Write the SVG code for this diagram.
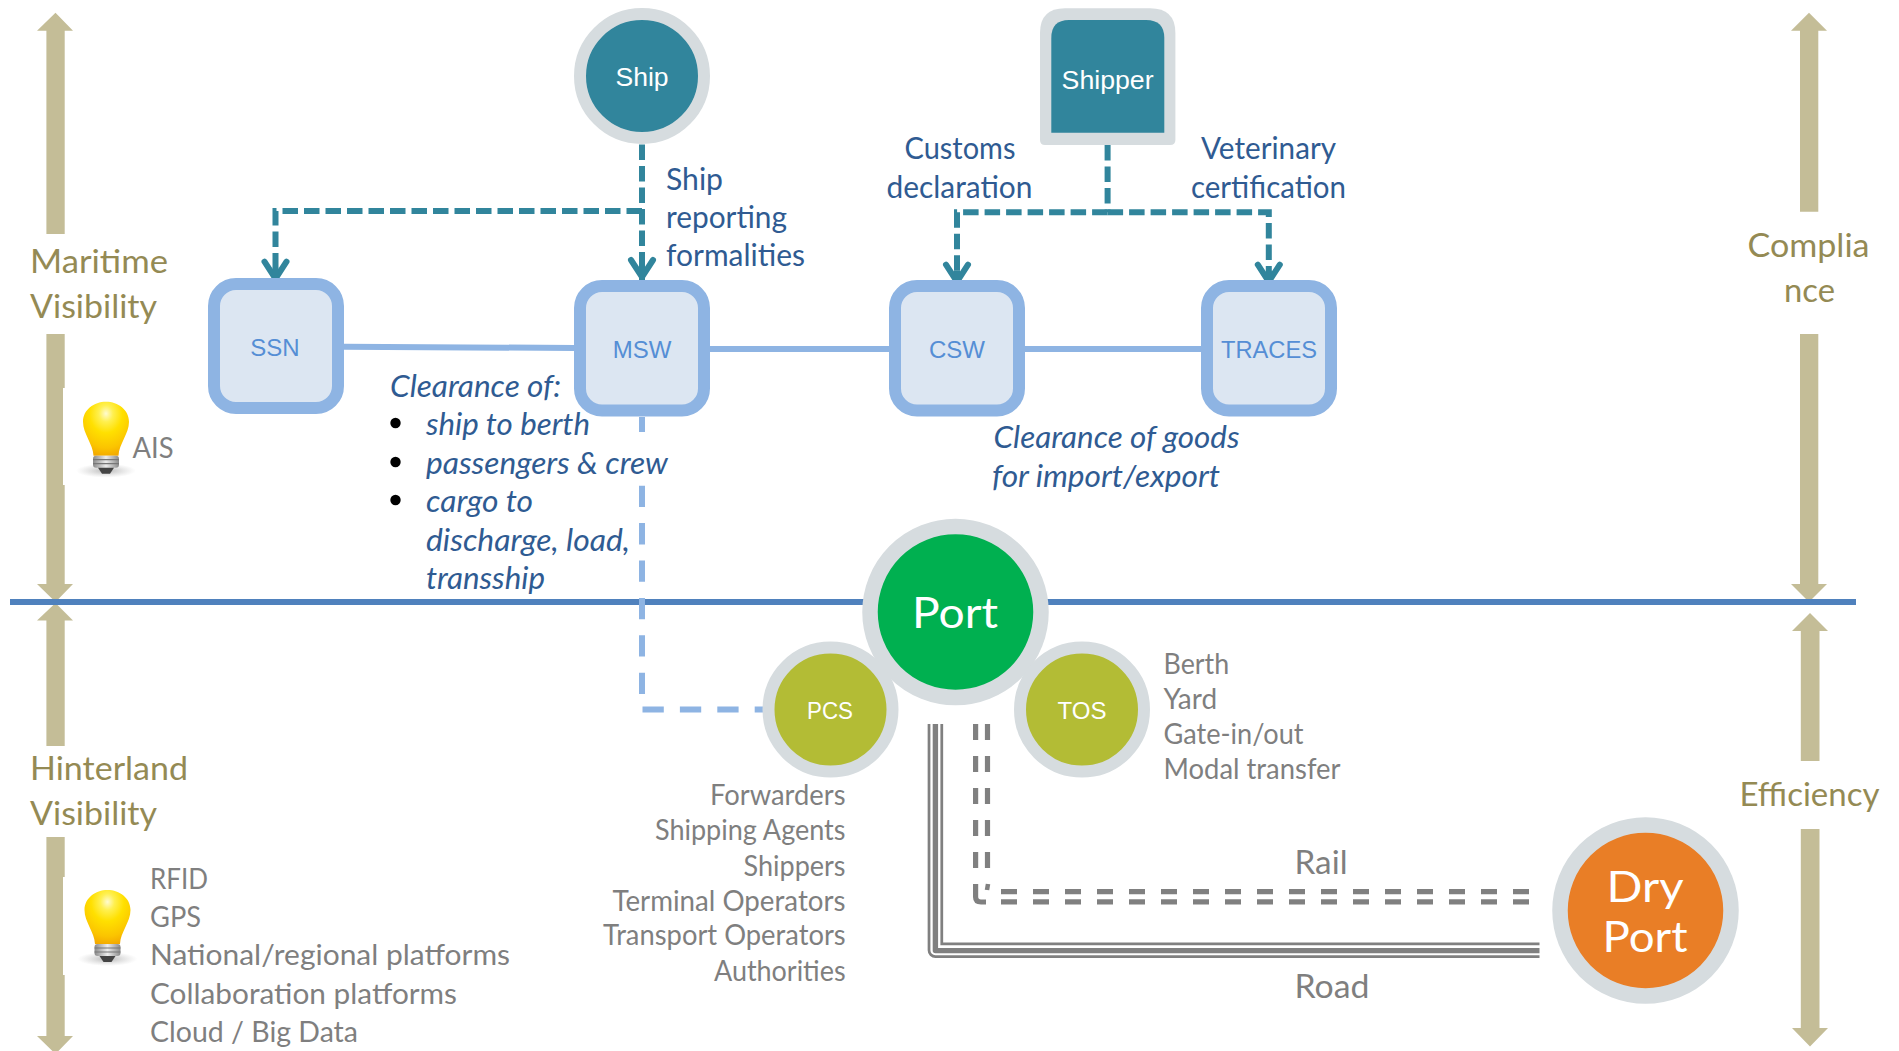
<svg xmlns="http://www.w3.org/2000/svg" width="1899" height="1051" viewBox="0 0 1899 1051">
<style>
text{font-family:"Lato","Carlito","Noto Sans",sans-serif}
.ar{font-family:"Liberation Sans",Arial,sans-serif}
.axis{fill:#C4BD97}
.tag{font-size:32.500px;fill:#948A54}
.blue{font-size:30px;fill:#2F5B92}
.ital{font-size:30px;fill:#2F5B92;font-style:italic}
.grey{font-size:28px;fill:#7F7F7F}
.big{font-size:33px;fill:#7F7F7F}
.ring{stroke:#D6DCDF;stroke-width:12}
.teal{fill:#31859C}
.sw rect{fill:#DCE6F2;stroke:#8EB4E3;stroke-width:12}
.sw text{font-size:24px;fill:#558ED5;text-anchor:middle}
.wt{fill:#fff;text-anchor:middle}
.c-solid{fill:none;stroke:#8EB4E3;stroke-width:6}
.c-teal{fill:none;stroke:#31859C;stroke-width:6;stroke-dasharray:15.5 6}
.c-ltb{fill:none;stroke:#8EB4E3;stroke-width:6;stroke-dasharray:21.3 16.1}
.road{fill:none;stroke-linejoin:round}
.rail{fill:none;stroke:#808080;stroke-width:5.2;stroke-dasharray:16 16}
</style>
<defs>
<marker id="open" markerUnits="userSpaceOnUse" markerWidth="34" markerHeight="34" viewBox="-28 -17 34 34" refX="0" refY="0" orient="auto">
<path d="M-21 -11 L-4 0 L-21 11" fill="none" stroke="#31859C" stroke-width="6" stroke-linecap="round"/>
<path d="M-15 0 H0" stroke="#31859C" stroke-width="6"/>
</marker>
<radialGradient id="glass" cx="0.5" cy="0.22" r="0.85">
<stop offset="0" stop-color="#FFFBD0"/>
<stop offset="0.18" stop-color="#FFF050"/>
<stop offset="0.42" stop-color="#FFE000"/>
<stop offset="0.75" stop-color="#FBC400"/>
<stop offset="1" stop-color="#F0A000"/>
</radialGradient>
<linearGradient id="metal" x1="0" x2="1" y1="0" y2="0">
<stop offset="0" stop-color="#8a8a8a"/><stop offset="0.5" stop-color="#ececec"/><stop offset="1" stop-color="#8a8a8a"/>
</linearGradient>
<radialGradient id="shade">
<stop offset="0" stop-color="#9a9a9a" stop-opacity="0.7"/><stop offset="1" stop-color="#bbb" stop-opacity="0"/>
</radialGradient>
<g id="bulb">
<ellipse cx="0" cy="69" rx="30" ry="7" fill="url(#shade)"/>
<path d="M-12.500 54 C-13 42 -23 32 -23 20 C-23 8 -12 0 0 0 C12 0 23 8 23 20 C23 32 13 42 12.500 54 Z" fill="url(#glass)"/>
<rect x="-13" y="54" width="26" height="12" rx="3" fill="url(#metal)"/>
<path d="M-13 58 H13 M-13 62 H13" stroke="#777" stroke-width="1.2"/>
<path d="M-8 66 H8 L4 72 H-4 Z" fill="#444"/>
</g>
</defs>

<g id="axes">
<path class="axis" d="M55.500 12.700 L73 30.700 H64.700 V234 H46.400 V30.700 H37 Z"/>
<path class="axis" d="M46.400 334 H64.700 V584 H73 L55.500 602 L37 584 H46.400 Z"/>
<path class="axis" d="M55.500 603 L73 620.600 H64.700 V746 H46.400 V620.600 H37 Z"/>
<path class="axis" d="M46.400 837 H64.700 V1036 H73 L55.500 1054 L37 1036 H46.400 Z"/>
<path class="axis" d="M1809 12.700 L1827 30.700 H1818.300 V211.700 H1800 V30.700 H1791 Z"/>
<path class="axis" d="M1800 334 H1818.300 V584 H1827 L1809 602 L1791 584 H1800 Z"/>
<path class="axis" d="M1810 613 L1828 631 H1819.500 V761 H1800.800 V631 H1792 Z"/>
<path class="axis" d="M1800.800 829 H1819.500 V1028 H1828 L1810 1046.600 L1792 1028 H1800.800 Z"/>
<rect x="63" y="388" width="3" height="97" fill="#fff"/>
<rect x="63" y="877" width="3" height="98" fill="#fff"/>
<text class="tag" x="30" y="273" textLength="138" lengthAdjust="spacingAndGlyphs">Maritime</text>
<text class="tag" x="30" y="318" textLength="127" lengthAdjust="spacingAndGlyphs">Visibility</text>
<text class="tag" x="30" y="780" textLength="158" lengthAdjust="spacingAndGlyphs">Hinterland</text>
<text class="tag" x="30" y="824.500" textLength="127" lengthAdjust="spacingAndGlyphs">Visibility</text>
<text class="tag" x="1747.500" y="257" textLength="122" lengthAdjust="spacingAndGlyphs">Complia</text>
<text class="tag" x="1784" y="302" textLength="51" lengthAdjust="spacingAndGlyphs">nce</text>
<text class="tag" x="1739.500" y="806" textLength="140" lengthAdjust="spacingAndGlyphs">Efficiency</text>
</g>

<rect id="divider" x="10" y="599" width="1846" height="6" fill="#4F81BD"/>

<g id="connectors">
<path class="c-solid" d="M344 346.700 L575 348"/>
<path class="c-solid" d="M710 349 H889"/>
<path class="c-solid" d="M1025 349 H1201"/>
<path class="c-teal" d="M642 144.500 V281" marker-end="url(#open)"/>
<path class="c-teal" d="M642 211 H275.500 V282.700" marker-end="url(#open)"/>
<path class="c-teal" d="M1107.600 145 V212.300"/>
<path class="c-teal" d="M1107.600 212.300 H957 V285.700" marker-end="url(#open)"/>
<path class="c-teal" d="M1107.600 212.300 H1268.800 V285.700" marker-end="url(#open)"/>
<path class="c-ltb" d="M642 417 V432"/>
<path class="c-ltb" d="M642 485.700 V709.600 H763"/>
<g id="road">
<path class="road" stroke="#808080" stroke-width="15.500" d="M935.400 724 V950.300 H1539.500"/>
<path class="road" stroke="#fff" stroke-width="10" d="M935.400 723 V950.300 H1540"/>
<path class="road" stroke="#808080" stroke-width="5.400" d="M935.400 724 V950.600 H1539.500"/>
</g>
<g id="rail">
<path class="rail" d="M975.600 724 V870"/>
<path class="rail" d="M987.500 724 V870"/>
<path fill="none" stroke="#808080" stroke-width="5.200" d="M975.600 884 V897 Q975.600 902 981 902 H986"/>
<path fill="none" stroke="#808080" stroke-width="4.500" d="M988 884 L987 890"/>
<path class="rail" d="M1001 891.600 H1530"/>
<path class="rail" d="M1001 901.800 H1530"/>
</g>
</g>

<g id="ship"><circle class="ring teal" cx="642" cy="76" r="62"/><text class="wt ar" x="642" y="86" font-size="26" textLength="53" lengthAdjust="spacingAndGlyphs">Ship</text></g>
<g id="shipper">
<path d="M1065 8.300 H1150 Q1175.400 8.300 1175.400 33 V140 Q1175.400 145 1170 145 H1045 Q1040 145 1040 140 V33 Q1040 8.300 1065 8.300 Z" fill="#D6DCDF"/>
<path class="teal" d="M1069 20 H1146 Q1164.300 20 1164.300 38 V132.700 H1051.300 V38 Q1051.300 20 1069 20 Z"/>
<text class="wt ar" x="1107.600" y="89" font-size="25.500" textLength="92" lengthAdjust="spacingAndGlyphs">Shipper</text>
</g>
<g id="ssn" class="sw"><rect x="214" y="284" width="124" height="124" rx="22"/><text class="ar" x="275" y="356">SSN</text></g>
<g id="msw" class="sw"><rect x="580" y="286" width="124" height="124.500" rx="22"/><text class="ar" x="642" y="358">MSW</text></g>
<g id="csw" class="sw"><rect x="895" y="286" width="124" height="124.500" rx="22"/><text class="ar" x="957" y="358">CSW</text></g>
<g id="traces" class="sw"><rect x="1207" y="286" width="124" height="124.500" rx="22"/><text class="ar" x="1269" y="358" textLength="96" lengthAdjust="spacingAndGlyphs">TRACES</text></g>

<g id="port"><circle cx="955.500" cy="612" r="85.500" fill="#00B050" stroke="#D6DCDF" stroke-width="15.500"/><text class="wt" x="955" y="628" font-size="43" textLength="86" lengthAdjust="spacingAndGlyphs">Port</text></g>
<g id="pcs"><circle cx="830.500" cy="709.600" r="62" fill="#B3BC35" stroke="#D6DCDF" stroke-width="12"/><text class="wt ar" x="830" y="719" font-size="24" textLength="46" lengthAdjust="spacingAndGlyphs">PCS</text></g>
<g id="tos"><circle cx="1082" cy="709.600" r="62" fill="#B3BC35" stroke="#D6DCDF" stroke-width="12"/><text class="wt ar" x="1082" y="719" font-size="24" textLength="49" lengthAdjust="spacingAndGlyphs">TOS</text></g>
<g id="dryport"><circle cx="1645.500" cy="910.500" r="85.500" fill="#E97E26" stroke="#D6DCDF" stroke-width="15.500"/>
<text class="wt" x="1645" y="901.600" font-size="43" textLength="77" lengthAdjust="spacingAndGlyphs">Dry</text>
<text class="wt" x="1645" y="952.400" font-size="43" textLength="85" lengthAdjust="spacingAndGlyphs">Port</text></g>

<g id="labels">
<text class="blue" x="666" y="190" textLength="57" lengthAdjust="spacingAndGlyphs">Ship</text>
<text class="blue" x="666" y="228" textLength="121" lengthAdjust="spacingAndGlyphs">reporting</text>
<text class="blue" x="666" y="266" textLength="139" lengthAdjust="spacingAndGlyphs">formalities</text>
<text class="blue" x="904.500" y="159" textLength="111" lengthAdjust="spacingAndGlyphs">Customs</text>
<text class="blue" x="886.500" y="197.700" textLength="146" lengthAdjust="spacingAndGlyphs">declaration</text>
<text class="blue" x="1201" y="159" textLength="135" lengthAdjust="spacingAndGlyphs">Veterinary</text>
<text class="blue" x="1191" y="197.700" textLength="155" lengthAdjust="spacingAndGlyphs">certification</text>
<text class="ital" x="390" y="396.700" textLength="171" lengthAdjust="spacingAndGlyphs">Clearance of:</text>
<circle cx="395.500" cy="423" r="5.200"/><circle cx="395.500" cy="462" r="5.200"/><circle cx="395.500" cy="500" r="5.200"/>
<text class="ital" x="426" y="435" textLength="164" lengthAdjust="spacingAndGlyphs">ship to berth</text>
<text class="ital" x="426" y="474" textLength="242" lengthAdjust="spacingAndGlyphs">passengers &amp; crew</text>
<text class="ital" x="426" y="511.700" textLength="107" lengthAdjust="spacingAndGlyphs">cargo to</text>
<text class="ital" x="426" y="550.500" textLength="204" lengthAdjust="spacingAndGlyphs">discharge, load,</text>
<text class="ital" x="426" y="589.400" textLength="119" lengthAdjust="spacingAndGlyphs">transship</text>
<text class="ital" x="993.500" y="447.700" textLength="246" lengthAdjust="spacingAndGlyphs">Clearance of goods</text>
<text class="ital" x="992" y="486.700" textLength="228" lengthAdjust="spacingAndGlyphs">for import/export</text>
<text class="grey" x="132.500" y="457.700" textLength="41" lengthAdjust="spacingAndGlyphs">AIS</text>
<text class="grey" x="150" y="889" textLength="58" lengthAdjust="spacingAndGlyphs">RFID</text>
<text class="grey" x="150" y="926.500" textLength="51" lengthAdjust="spacingAndGlyphs">GPS</text>
<text class="grey" x="150" y="965" textLength="360" lengthAdjust="spacingAndGlyphs">National/regional platforms</text>
<text class="grey" x="150" y="1004" textLength="307" lengthAdjust="spacingAndGlyphs">Collaboration platforms</text>
<text class="grey" x="150" y="1042" textLength="208" lengthAdjust="spacingAndGlyphs">Cloud / Big Data</text>
<text class="grey" x="710" y="804.500" textLength="135.500" lengthAdjust="spacingAndGlyphs">Forwarders</text>
<text class="grey" x="655" y="840" textLength="190.500" lengthAdjust="spacingAndGlyphs">Shipping Agents</text>
<text class="grey" x="743.500" y="875.500" textLength="102" lengthAdjust="spacingAndGlyphs">Shippers</text>
<text class="grey" x="612.500" y="910.500" textLength="233" lengthAdjust="spacingAndGlyphs">Terminal Operators</text>
<text class="grey" x="603" y="945" textLength="242.600" lengthAdjust="spacingAndGlyphs">Transport Operators</text>
<text class="grey" x="714" y="980.500" textLength="131.600" lengthAdjust="spacingAndGlyphs">Authorities</text>
<text class="grey" x="1163.500" y="673.500" textLength="65.600" lengthAdjust="spacingAndGlyphs">Berth</text>
<text class="grey" x="1163.500" y="708.500" textLength="53.600" lengthAdjust="spacingAndGlyphs">Yard</text>
<text class="grey" x="1163.500" y="743.500" textLength="140" lengthAdjust="spacingAndGlyphs">Gate-in/out</text>
<text class="grey" x="1163.500" y="778.500" textLength="177" lengthAdjust="spacingAndGlyphs">Modal transfer</text>
<text class="big" x="1294.500" y="874" textLength="53" lengthAdjust="spacingAndGlyphs">Rail</text>
<text class="big" x="1294.500" y="997.500" textLength="75" lengthAdjust="spacingAndGlyphs">Road</text>
</g>

<use id="bulb-ais" href="#bulb" x="106" y="401.700"/>
<use id="bulb-hinterland" href="#bulb" x="107.500" y="890"/>
</svg>
